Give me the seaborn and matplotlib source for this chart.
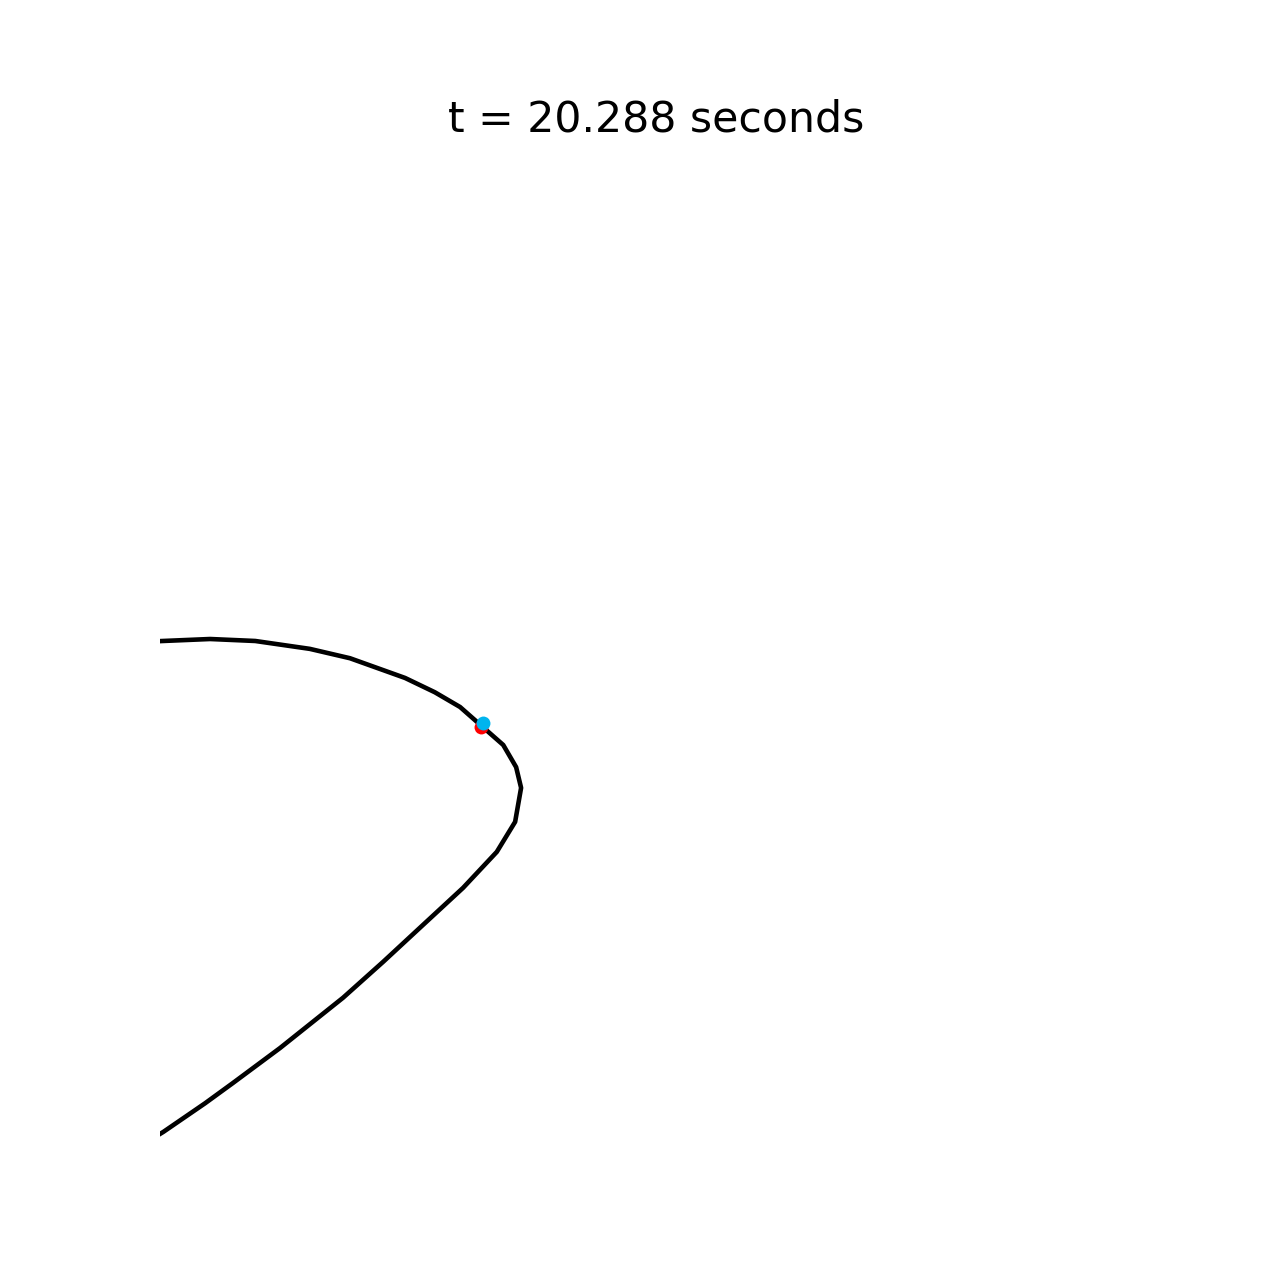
import numpy as np
import pandas as pd
import matplotlib
matplotlib.use("Agg")
import matplotlib.pyplot as plt
import seaborn as sns

# orbit path
orbit_x = [-10.81, -9.94, -8.99, -8.08, -6.98, -6.17, -5.06, -4.46, -3.95, -3.51,
           -3.08, -2.82, -2.72, -2.84, -3.21, -3.89, -4.76, -5.50, -6.31, -7.58,
           -8.53, -9.09, -9.93, -10.40]
orbit_y = [0.07, 0.11, 0.15, 0.11, -0.05, -0.24, -0.64, -0.93, -1.23, -1.62,
           -2.00, -2.45, -2.87, -3.56, -4.17, -4.90, -5.71, -6.40, -7.13, -8.15,
           -8.86, -9.27, -9.85, -10.14]

# current positions of the two bodies
red_x, red_y = [-3.53], [-1.64]
blue_x, blue_y = [-3.49], [-1.56]

t_now = 20.288

sns.set_style("white")
plt.rcParams['font.family'] = ['DejaVu Sans']

fig, ax = plt.subplots(figsize=(12.8, 12.8), dpi=100)

df = pd.DataFrame({"x": orbit_x, "y": orbit_y})
sns.lineplot(data=df, x="x", y="y", sort=False, estimator=None, errorbar=None,
             color="black", linewidth=3.3, ax=ax)
sns.scatterplot(x=red_x, y=red_y, color="red", s=100, linewidth=0, ax=ax, zorder=3)
sns.scatterplot(x=blue_x, y=blue_y, color="#00B4EE", s=100, linewidth=0, ax=ax, zorder=4)

ax.set_xlim(-10, 10)
ax.set_ylim(-10, 10)
ax.set_title(f"t = {t_now:.3f} seconds", fontsize=30.7, pad=16, color="black")
ax.axis("off")

plt.savefig("out.png", dpi=100)
